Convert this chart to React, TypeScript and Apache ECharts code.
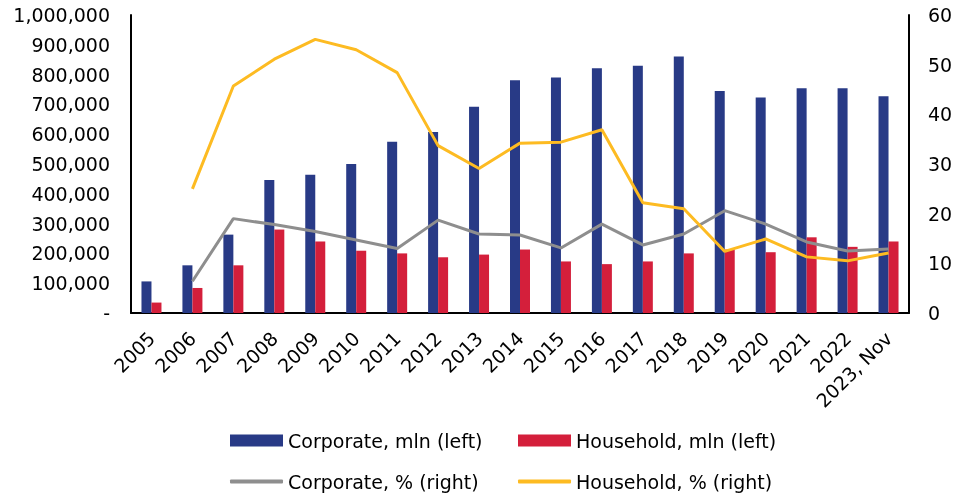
import React, { useEffect, useRef } from "react";
import * as echarts from "echarts";

const categories = ["2005","2006","2007","2008","2009","2010","2011","2012","2013","2014","2015","2016","2017","2018","2019","2020","2021","2022","2023, Nov"];
const corporateMln = [106000,160000,263000,446000,464000,500000,575000,607000,692000,781000,790000,821000,830000,861000,745000,723000,754000,754000,727000];
const householdMln = [35000,84000,160000,280000,240000,209000,200000,187000,196000,213000,173000,164000,173000,200000,213000,204000,254000,222000,240000];
const corporatePct = [null,6.4,19.0,17.8,16.4,14.7,13.0,18.7,15.9,15.7,13.1,17.9,13.7,15.9,20.6,17.9,14.3,12.5,12.9];
const householdPct = [null,25.0,45.7,51.1,55.1,53.0,48.4,33.7,29.1,34.2,34.4,36.9,22.2,21.0,12.4,14.9,11.3,10.5,12.1];
const leftTicks = { min: 0, max: 1000000, interval: 100000 };
const rightTicks = { min: 0, max: 60, interval: 10 };

const BLUE = "#283A86";
const RED = "#D41F3B";
const GRAY = "#8E8E8E";
const GOLD = "#FDBB22";
const FONT = "DejaVu Sans";

export default function App() {
  const ref = useRef<HTMLDivElement>(null);
  useEffect(() => {
    if (!ref.current) return;
    const chart = echarts.init(ref.current, undefined, { renderer: "svg" });
    const legendText = { color: "#000", fontSize: 19, fontFamily: FONT };
    const mkLegend = (name: string, left: number, top: number, isLine: boolean) => ({
      data: [name],
      left,
      top,
      itemWidth: 53,
      itemHeight: isLine ? 4 : 12,
      icon: isLine ? "roundRect" : "rect",
      textStyle: legendText,
      selectedMode: false,
      padding: 0,
    });
    chart.setOption({
      animation: false,
      textStyle: { fontFamily: FONT },
      grid: { left: 131, right: 56, top: 15, bottom: 185 },
      legend: [
        mkLegend("Corporate, mln (left)", 230, 431, false),
        mkLegend("Household, mln (left)", 518, 431, false),
        mkLegend("Corporate, % (right)", 230, 472, true),
        mkLegend("Household, % (right)", 518, 472, true),
      ],
      xAxis: {
        type: "category",
        data: categories,
        axisLine: { lineStyle: { color: "#000", width: 2 } },
        axisTick: { show: false },
        axisLabel: { color: "#000", fontSize: 19, fontFamily: FONT, rotate: 45, interval: 0, margin: 22 },
      },
      yAxis: [
        {
          type: "value",
          min: leftTicks.min,
          max: leftTicks.max,
          interval: leftTicks.interval,
          splitLine: { show: false },
          axisLine: { show: true, lineStyle: { color: "#000", width: 2 } },
          axisTick: { show: false },
          axisLabel: {
            color: "#000",
            fontSize: 19,
            fontFamily: FONT,
            margin: 21,
            formatter: (v: number) => (v === 0 ? "-" : v.toLocaleString("en-US")),
          },
        },
        {
          type: "value",
          min: rightTicks.min,
          max: rightTicks.max,
          interval: rightTicks.interval,
          position: "right",
          splitLine: { show: false },
          axisLine: { show: true, lineStyle: { color: "#000", width: 2 } },
          axisTick: { show: false },
          axisLabel: { color: "#000", fontSize: 19, fontFamily: FONT, margin: 19 },
        },
      ],
      series: [
        {
          name: "Corporate, mln (left)",
          type: "bar",
          data: corporateMln,
          barWidth: 10,
          barGap: "0%",
          itemStyle: { color: BLUE },
        },
        {
          name: "Household, mln (left)",
          type: "bar",
          data: householdMln,
          barWidth: 10,
          barGap: "0%",
          itemStyle: { color: RED },
        },
        {
          name: "Corporate, % (right)",
          type: "line",
          yAxisIndex: 1,
          data: corporatePct,
          symbol: "none",
          lineStyle: { color: GRAY, width: 3 },
          itemStyle: { color: GRAY },
        },
        {
          name: "Household, % (right)",
          type: "line",
          yAxisIndex: 1,
          data: householdPct,
          symbol: "none",
          lineStyle: { color: GOLD, width: 3 },
          itemStyle: { color: GOLD },
        },
      ],
    });
    return () => chart.dispose();
  }, []);
  return (
    <div style={{ position: "fixed", left: 0, top: 0, width: 965, height: 498 }}>
      <div ref={ref} style={{ width: 965, height: 498 }} />
    </div>
  );
}
